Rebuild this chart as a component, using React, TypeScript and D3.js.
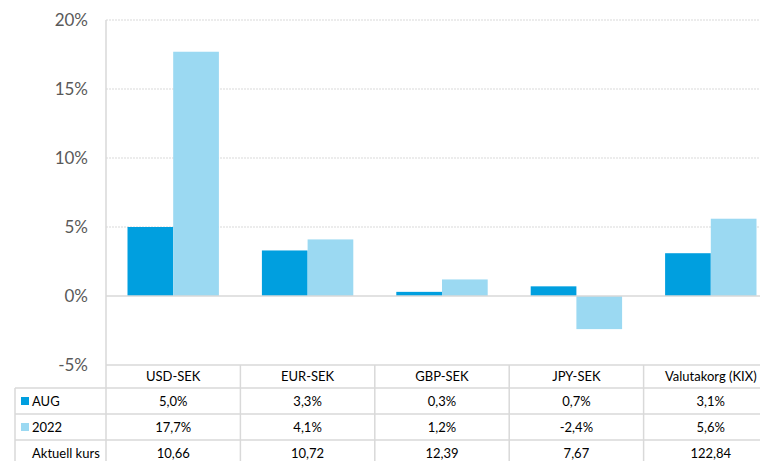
import React from "react";
import * as d3 from "d3";

const categories = ["USD-SEK", "EUR-SEK", "GBP-SEK", "JPY-SEK", "Valutakorg (KIX)"];
const seriesNames = ["AUG", "2022"];
const augValues = [5.0, 3.3, 0.3, 0.7, 3.1];
const ytdValues = [17.7, 4.1, 1.2, -2.4, 5.6];
const currentRates = ["10,66", "10,72", "12,39", "7,67", "122,84"];
const rowLabel = "Aktuell kurs";
const yTicks = [-5, 0, 5, 10, 15, 20];

const W = 760;
const H = 461;
const plotLeft = 106;
const plotRight = 778;
const plotTop = 20;
const plotBottom = 365;
const colors = ["#009FDF", "#9BD9F2"];
const gridColor = "#D9D9D9";
const font = "Lato, 'Open Sans', sans-serif";

const se = d3.formatLocale({ decimal: ",", thousands: " ", grouping: [3], currency: ["", " kr"], minus: "-" });
const pct = se.format(".1f");
const tickFmt = se.format("d");

export default function App() {
  const y = d3.scaleLinear().domain([-5, 20]).range([plotBottom, plotTop]);
  const x0 = d3.scaleBand<string>().domain(categories).range([plotLeft, plotRight]).paddingInner(0).paddingOuter(0);
  const step = x0.step();
  const groupPad = step * 0.16;
  const x1 = d3.scaleBand<string>().domain(seriesNames).range([groupPad, step - groupPad]).padding(0);
  const series = [augValues, ytdValues];

  const rowTops = [365, 388, 414, 440, 466];
  const rowMid = (i: number) => (rowTops[i] + rowTops[i + 1]) / 2;

  return (
    <svg width={W} height={H} style={{ position: "absolute", left: 0, top: 0, background: "#fff" }} fontFamily={font}>
      {/* gridlines */}
      {yTicks.filter((t) => t > 0).map((t) => (
        <line key={t} x1={plotLeft} x2={W} y1={y(t)} y2={y(t)} stroke={gridColor} strokeWidth={1} strokeDasharray="2,1" />
      ))}
      {/* y tick labels */}
      {yTicks.map((t) => (
        <text key={t} x={88} y={y(t)} dy="0.35em" textAnchor="end" fontSize={17} fill="#595959">
          {tickFmt(t)}%
        </text>
      ))}
      {/* bars */}
      {categories.map((c, ci) =>
        series.map((vals, si) => {
          const v = vals[ci];
          const bx = (x0(c) as number) + (x1(seriesNames[si]) as number);
          return (
            <rect key={c + si} x={bx} width={x1.bandwidth()} y={Math.min(y(v), y(0))} height={Math.abs(y(v) - y(0))} fill={colors[si]} />
          );
        })
      )}
      {/* zero line */}
      <line x1={plotLeft} x2={W} y1={y(0)} y2={y(0)} stroke={gridColor} strokeWidth={1.5} />
      {/* axis line */}
      <line x1={plotLeft} x2={plotLeft} y1={plotTop} y2={H} stroke={gridColor} strokeWidth={1.5} />
      {/* table horizontal lines */}
      <line x1={plotLeft} x2={W} y1={rowTops[0]} y2={rowTops[0]} stroke={gridColor} strokeWidth={1.5} />
      {[1, 2, 3].map((i) => (
        <line key={i} x1={15} x2={W} y1={rowTops[i]} y2={rowTops[i]} stroke={gridColor} strokeWidth={1.5} />
      ))}
      <line x1={15} x2={15} y1={rowTops[1]} y2={H} stroke={gridColor} strokeWidth={1.5} />
      {categories.slice(1).map((c) => (
        <line key={c} x1={x0(c) as number} x2={x0(c) as number} y1={rowTops[0]} y2={H} stroke={gridColor} strokeWidth={1.5} />
      ))}
      {/* header row */}
      {categories.map((c) => (
        <text key={c} x={(x0(c) as number) + step / 2} y={rowMid(0)} dy="0.35em" textAnchor="middle" fontSize={13} fill="#000">
          {c}
        </text>
      ))}
      {/* series rows */}
      {series.map((vals, si) => (
        <g key={si}>
          <rect x={21} y={rowMid(si + 1) - 4} width={8} height={8} fill={colors[si]} />
          <text x={32} y={rowMid(si + 1)} dy="0.35em" fontSize={13} fill="#000">
            {seriesNames[si]}
          </text>
          {categories.map((c, ci) => (
            <text key={c} x={(x0(c) as number) + step / 2} y={rowMid(si + 1)} dy="0.35em" textAnchor="middle" fontSize={13} fill="#000">
              {pct(vals[ci])}%
            </text>
          ))}
        </g>
      ))}
      {/* current rate row */}
      <text x={32} y={rowMid(3)} dy="0.35em" fontSize={13} fill="#000">
        {rowLabel}
      </text>
      {categories.map((c, ci) => (
        <text key={c} x={(x0(c) as number) + step / 2} y={rowMid(3)} dy="0.35em" textAnchor="middle" fontSize={13} fill="#000">
          {currentRates[ci]}
        </text>
      ))}
    </svg>
  );
}
